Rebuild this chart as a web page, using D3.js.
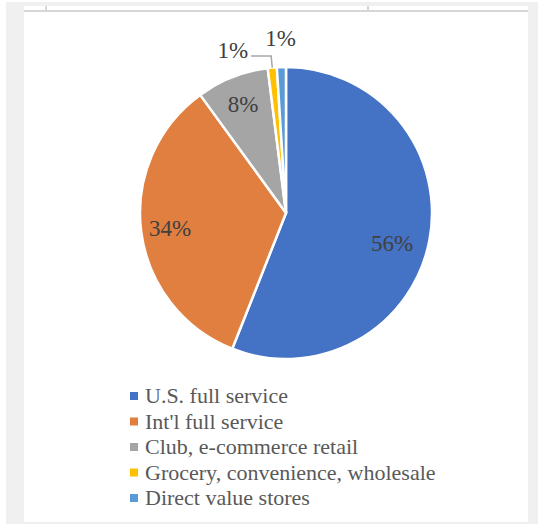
<!DOCTYPE html>
<html lang="en">
  <head>
    <meta charset="UTF-8" />
    <title>Pie chart</title>
    <script src="https://d3js.org/d3.v7.min.js"></script>
    <style>
      html,
      body {
        margin: 0;
        padding: 0;
        background: #ffffff;
      }
      svg {
        display: block;
      }
      .legend-text {
        font-family: "Liberation Serif", "DejaVu Serif", serif;
        font-size: 22px;
        fill: #595959;
      }
      .slice-label {
        font-family: "Liberation Serif", "DejaVu Serif", serif;
        font-size: 23px;
        fill: #404040;
      }
    </style>
  </head>
  <body>
    <svg id="chart" width="540" height="525"></svg>

    <script>
      // chart data
      const categories = [
        "U.S. full service",
        "Int'l full service",
        "Club, e-commerce retail",
        "Grocery, convenience, wholesale",
        "Direct value stores",
      ];
      const shares = [56, 34, 8, 1, 1];
      const labels = ["56%", "34%", "8%", "1%", "1%"];
      const colors = ["#4472c4", "#e07f3f", "#a5a5a5", "#ffc000", "#5b9bd5"];

      const cx = 286;
      const cy = 213;
      const radius = 146;

      const svg = d3.select("#chart");

      // window frame around the chart
      svg.append("rect").attr("x", 6).attr("y", 2).attr("width", 532).attr("height", 522).attr("fill", "#f0f0f0");
      svg.append("rect").attr("x", 24).attr("y", 6).attr("width", 504).attr("height", 516).attr("fill", "#ffffff");
      svg.append("rect").attr("x", 24).attr("y", 10).attr("width", 504).attr("height", 2).attr("fill", "#d6d6d6");
      svg.append("rect").attr("x", 45).attr("y", 6).attr("width", 2).attr("height", 5).attr("fill", "#d6d6d6");
      svg.append("rect").attr("x", 367).attr("y", 6).attr("width", 2).attr("height", 5).attr("fill", "#d6d6d6");

      const data = categories.map((c, i) => ({ name: c, value: shares[i], label: labels[i], color: colors[i] }));

      const pie = d3.pie().sort(null).value((d) => d.value);
      const arcs = pie(data);

      const arc = d3.arc().innerRadius(0).outerRadius(radius);

      const g = svg.append("g").attr("transform", `translate(${cx},${cy})`);

      g.selectAll("path.slice")
        .data(arcs)
        .enter()
        .append("path")
        .attr("class", "slice")
        .attr("d", arc)
        .attr("fill", (d) => d.data.color)
        .attr("stroke", "#ffffff")
        .attr("stroke-width", 2.5)
        .attr("stroke-linejoin", "round");

      // label radius depends on slice size
      const mid = (d) => (d.startAngle + d.endAngle) / 2;
      const polar = (a, r) => [Math.sin(a) * r, -Math.cos(a) * r];

      arcs.forEach((d, i) => {
        const a = mid(d);
        if (i === 3) {
          // small slice with a leader line
          const p0 = polar(a, radius);
          const p1 = polar(a, radius * 1.08);
          const p2 = [p1[0] - 20, p1[1]];
          g.append("polyline")
            .attr("points", [p0, p1, p2].map((p) => p.join(",")).join(" "))
            .attr("fill", "none")
            .attr("stroke", "#a6a6a6")
            .attr("stroke-width", 1.5);
          g.append("text")
            .attr("class", "slice-label")
            .attr("x", p2[0] - 3)
            .attr("y", p2[1])
            .attr("dy", "0.1em")
            .attr("text-anchor", "end")
            .text(d.data.label);
        } else {
          const r = i === 4 ? radius * 1.2 : i === 2 ? radius * 0.8 : i === 1 ? radius * 0.8 : radius * 0.74;
          const p = polar(a, r);
          g.append("text")
            .attr("class", "slice-label")
            .attr("x", p[0])
            .attr("y", p[1] + (i === 0 ? 10 : 0))
            .attr("dy", "0.35em")
            .attr("text-anchor", "middle")
            .text(d.data.label);
        }
      });

      // legend
      const legend = svg.append("g").attr("transform", "translate(130,403)");
      const rowH = 25.5;
      const rows = legend
        .selectAll("g.row")
        .data(data)
        .enter()
        .append("g")
        .attr("class", "row")
        .attr("transform", (d, i) => `translate(0,${i * rowH})`);
      rows.append("rect")
        .attr("x", 0)
        .attr("y", -11)
        .attr("width", 8)
        .attr("height", 8)
        .attr("fill", (d) => d.color);
      rows.append("text")
        .attr("class", "legend-text")
        .attr("x", 15)
        .attr("y", 0)
        .text((d) => d.name);
    </script>
  </body>
</html>
